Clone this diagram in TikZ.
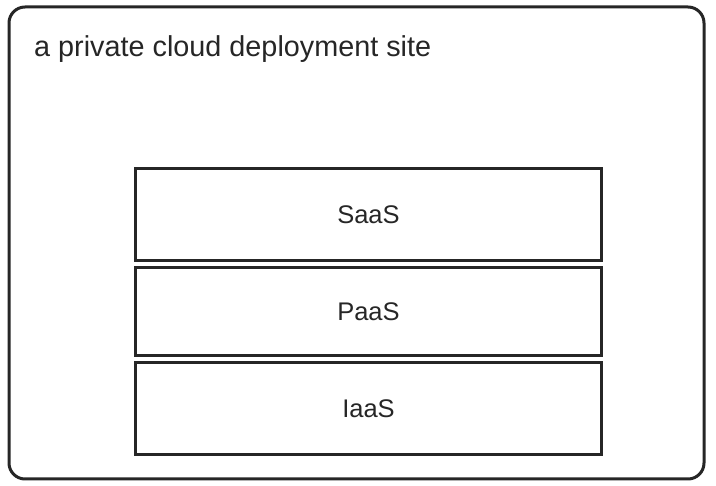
\documentclass[tikz,border=0pt]{standalone}
\usepackage{fontspec}
\setmainfont{Liberation Sans}
\begin{document}
\begin{tikzpicture}[x=1pt,y=-1pt,
  frame/.style={draw=black!85,line width=3pt},
  layer/.style={draw=black!85,line width=3pt,minimum width=466pt,anchor=north,inner sep=0pt,text=black!85,font=\fontsize{25.5}{30}\selectfont},
  titletext/.style={anchor=base west,inner sep=0pt,font=\fontsize{28.8}{34}\selectfont,text=black!85}]
\useasboundingbox (0,0) rectangle (716,486);
\draw[frame,rounded corners=16pt] (9,7) rectangle (704,479);
\node[titletext] (title) at (34,57) {a private cloud deployment site};
\node[layer,minimum height=92pt] (saas) at (368.5,167) {SaaS};
\node[layer,minimum height=88pt] (paas) at (368.5,266.5) {PaaS};
\node[layer,minimum height=92pt] (iaas) at (368.5,361) {IaaS};
\end{tikzpicture}
\end{document}
